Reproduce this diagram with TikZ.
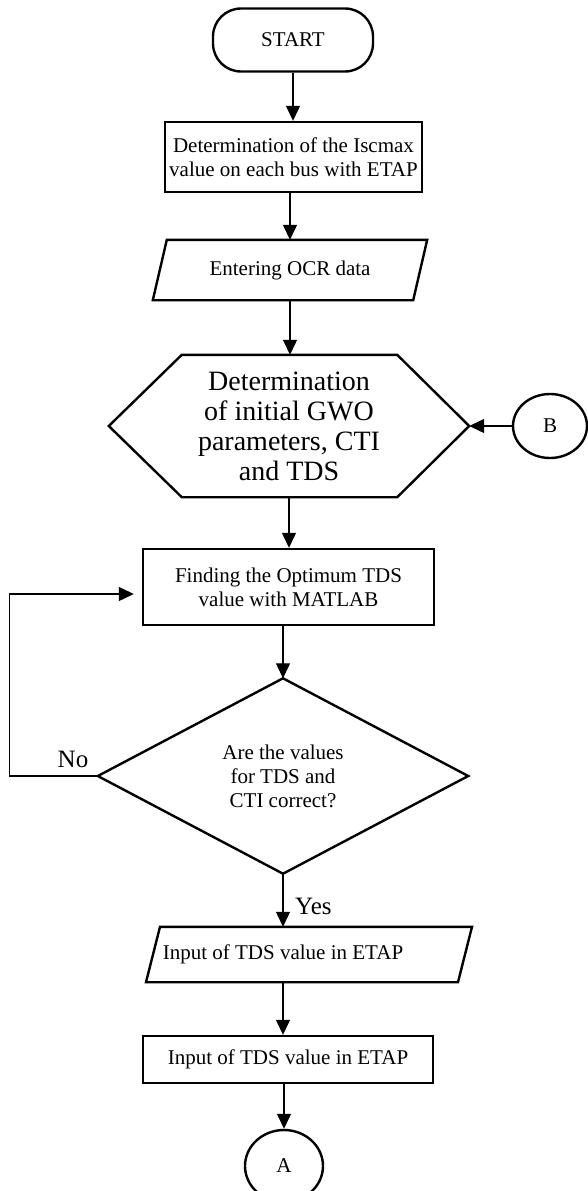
\documentclass[tikz,border=0pt]{standalone}
\usepackage{fontspec}
\setmainfont{Liberation Serif}
\usetikzlibrary{arrows.meta,calc,shapes.geometric}
\begin{document}
\begin{tikzpicture}[x=1pt,y=-1pt,
  base/.style={font=\fontsize{21}{24}\selectfont, align=center, inner sep=0pt},
  outline/.style={draw, line width=2.4pt},
  boxnode/.style={base, outline, rectangle},
  plain/.style={base},
  conn/.style={line width=1.2pt, -{Triangle[width=14pt,length=15pt]}},
  lbl/.style={font=\fontsize{25}{28}\selectfont, inner sep=0pt}
]
\useasboundingbox (0,0) rectangle (588,1191);

% shapes
\node[boxnode, rounded corners=28pt, minimum width=160pt, minimum height=63pt] (start) at (293,40) {START};
\node[boxnode, minimum width=257pt, minimum height=70pt] (det) at (293.5,157) {Determination of the Iscmax\\value on each bus with ETAP};

\node[plain, minimum width=260pt, minimum height=60pt] (ocr) at (290,270) {Entering OCR data};
\draw[outline] ([xshift=7pt]ocr.north west) -- ([xshift=7pt]ocr.north east) -- ([xshift=-7pt]ocr.south east) -- ([xshift=-7pt]ocr.south west) -- cycle;

\node[plain, font=\fontsize{28}{30}\selectfont, minimum width=360pt, minimum height=142pt] (gwo) at (289,426) {Determination\\of initial GWO\\parameters, CTI\\and TDS};
\draw[outline] (gwo.west) -- ([xshift=73pt]gwo.north west) -- ([xshift=-72pt]gwo.north east) -- (gwo.east) -- ([xshift=-72pt]gwo.south east) -- ([xshift=73pt]gwo.south west) -- cycle;

\node[base, outline, ellipse, minimum width=74pt, minimum height=64pt] (b) at (550,426) {B};

\node[boxnode, minimum width=291pt, minimum height=76pt] (opt) at (288.5,587) {Finding the Optimum TDS\\value with MATLAB};

\node[plain, minimum width=370pt, minimum height=195pt] (chk) at (283,776) {Are the values\\for TDS and\\CTI correct?};
\draw[outline] (chk.north) -- (chk.east) -- (chk.south) -- (chk.west) -- cycle;

\node[plain, minimum width=250pt, minimum height=55pt] (tds) at (283,954.5) {Input of TDS value in ETAP};
\draw[outline] ($(tds.north)+(-123,0)$) -- ($(tds.north)+(189,0)$) -- ($(tds.south)+(175,0)$) -- ($(tds.south)+(-137,0)$) -- cycle;

\node[boxnode, minimum width=290pt, minimum height=47pt] (tds2) at (288,1059.5) {Input of TDS value in ETAP};

\node[base, outline, ellipse, minimum width=78pt, minimum height=72pt] (a) at (284,1166) {A};

% labels
\node[lbl, anchor=base] (no) at (73,767) {No};
\node[lbl, anchor=base west] (yes) at (295,914) {Yes};

% connectors
\draw[conn] (start.south) -- (start.south |- det.north);
\draw[conn] (ocr.north |- det.south) -- (ocr.north);
\draw[conn] (ocr.south) -- (ocr.south |- gwo.north);
\draw[conn] (b.west) -- (gwo.east);
\draw[conn] (gwo.south) -- (gwo.south |- opt.north);
\draw[conn] (chk.north |- opt.south) -- (chk.north);
\draw[conn, shorten >=8pt] (chk.west) -- ($(chk.west)+(-88,0)$) |- ([yshift=-7pt]opt.west);
\draw[conn] (chk.south) -- (chk.south |- tds.north);
\draw[conn] (tds.south) -- (tds.south |- tds2.north);
\draw[conn] (a.north |- tds2.south) -- (a.north);
\end{tikzpicture}
\end{document}
